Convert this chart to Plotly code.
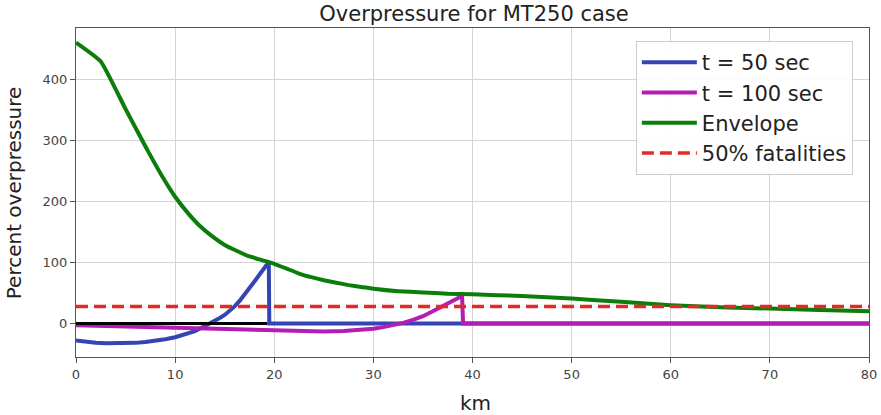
import plotly.graph_objects as go

# Data (km, percent overpressure)
env_km = [0, 2.5, 5, 6.5, 7.5, 8.75, 10, 11.25, 12.5, 13.75, 15, 16.25, 17.5, 18.75, 20,
          21.25, 22.5, 23.75, 25, 26.25, 27.5, 28.75, 30, 32.5, 35, 37.5, 40, 45, 50, 55,
          60, 65, 70, 75, 80]
env_val = [461, 430, 352, 306, 276, 240, 208, 182, 160, 143, 129, 119, 110, 104, 98,
           90, 82, 76, 71, 67, 63, 60, 57, 53, 51, 49, 48, 45, 41, 35.5,
           30, 26.5, 24.5, 22, 20]

t50_km = [0, 1, 2, 3, 4, 5, 6, 7, 8, 9, 10, 11, 12, 13, 13.5, 14, 14.5, 15, 15.5, 16,
          16.5, 17, 17.5, 18, 18.5, 19, 19.45, 19.5, 80]
t50_val = [-28, -30, -31.5, -32.3, -32.6, -32.5, -31.8, -30.5, -28.5, -25.8, -22.5, -18,
           -12.5, -4, 0, 4, 9, 14, 20, 28, 37, 47, 58, 69, 80, 91, 101, 0, 0]

t100_km = [0, 5, 10, 15, 20, 22.5, 25, 27, 28.5, 30, 31, 32, 33, 34, 35, 36, 36.7, 37,
           38, 38.95, 39.05, 80]
t100_val = [-3, -5, -7, -9, -11, -12.5, -13, -12.5, -11, -8.5, -6, -3, 1, 6, 12, 20, 26, 29,
            37, 45, 0, 0]

base_km = [0, 19.3]
base_val = [0, 0]

fatal_km = [0, 80]
fatal_val = [28, 28]

x_ticks = [0, 10, 20, 30, 40, 50, 60, 70, 80]
y_ticks = [0, 100, 200, 300, 400]

fig = go.Figure()
fig.add_trace(go.Scatter(x=t50_km, y=t50_val, mode="lines", name="t = 50 sec",
                         line=dict(color="#3444b4", width=4)))
fig.add_trace(go.Scatter(x=t100_km, y=t100_val, mode="lines", name="t = 100 sec",
                         line=dict(color="#b31db3", width=4)))
fig.add_trace(go.Scatter(x=base_km, y=base_val, mode="lines", showlegend=False,
                         line=dict(color="black", width=3)))
fig.add_trace(go.Scatter(x=env_km, y=env_val, mode="lines", name="Envelope",
                         line=dict(color="#0b7d0b", width=4, shape="spline", smoothing=0.4)))
fig.add_trace(go.Scatter(x=fatal_km, y=fatal_val, mode="lines", name="50% fatalities",
                         line=dict(color="#e32b22", width=3.5, dash="12px,6px")))

axis_common = dict(showgrid=True, gridcolor="#d4d4d4", gridwidth=1,
                   showline=True, linecolor="#555555", linewidth=1.2, mirror=True,
                   ticks="outside", ticklen=5, tickcolor="#555555", automargin=False,
                   tickfont=dict(size=13, color="#444444"), zeroline=False)

fig.update_xaxes(range=[0, 80], tickvals=x_ticks, **axis_common)
fig.update_yaxes(range=[-55, 485], tickvals=y_ticks, **axis_common)

fig.update_layout(
    width=881, height=415,
    margin=dict(l=76, r=12, t=28, b=58),
    paper_bgcolor="white", plot_bgcolor="white",
    font=dict(family="DejaVu Sans", color="#222222"),
    title=dict(text="Overpressure for MT250 case", x=474 / 881, xanchor="center",
               y=1 - 14 / 415, yanchor="middle", font=dict(size=21, color="#222222")),
    legend=dict(x=0.706, y=0.9605, xanchor="left", yanchor="top",
                bgcolor="rgba(255,255,255,0.9)", bordercolor="#cccccc", borderwidth=1,
                font=dict(size=21, color="#222222"), itemwidth=55,
                tracegroupgap=0),
    showlegend=True,
    annotations=[
        dict(text="km", xref="paper", yref="paper", x=0.504, y=-0.14,
             xanchor="center", yanchor="middle", showarrow=False,
             font=dict(size=20, color="#222222")),
        dict(text="Percent overpressure", xref="paper", yref="paper", x=-0.0785, y=0.5,
             xanchor="center", yanchor="middle", showarrow=False, textangle=-90,
             font=dict(size=20, color="#222222")),
    ],
)

fig.write_html("out.html", config={"displayModeBar": False},
               post_script="document.body.style.margin='0';")
